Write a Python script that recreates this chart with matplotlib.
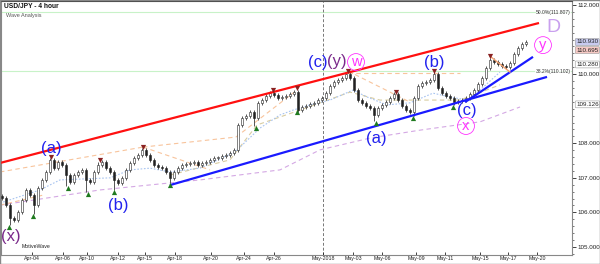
import matplotlib
matplotlib.use('Agg')
import matplotlib.pyplot as plt
from matplotlib.ticker import MultipleLocator

# ---------------- data ----------------
closes = [106.42, 106.21, 105.84, 105.78, 106.01, 106.36, 106.65, 106.50, 106.21, 106.71,
          106.94, 107.17, 107.52, 107.28, 107.46, 107.37, 107.08, 106.88, 107.08, 107.17,
          107.23, 106.94, 106.88, 107.17, 107.37, 107.46, 107.28, 107.17, 106.94, 106.85,
          107.00, 107.23, 107.43, 107.57, 107.66, 107.81, 107.66, 107.52, 107.37, 107.31,
          107.28, 107.17, 107.00, 107.17, 107.28, 107.37, 107.40, 107.43, 107.46, 107.37,
          107.43, 107.46, 107.52, 107.57, 107.57, 107.63, 107.66, 107.72, 107.81, 108.53,
          108.73, 108.79, 108.90, 108.73, 109.17, 109.25, 109.37, 109.45, 109.40, 109.31,
          109.34, 109.37, 109.43, 109.48, 108.96, 109.05, 109.08, 109.14, 109.17, 109.25,
          109.31, 109.45, 109.66, 109.77, 109.83, 109.89, 110.00, 109.89, 109.54, 109.25,
          109.17, 109.08, 109.02, 108.82, 109.02, 109.11, 109.19, 109.31, 109.43, 109.25,
          109.08, 108.96, 108.90, 109.31, 109.66, 109.74, 109.77, 109.83, 110.00, 109.60,
          109.45, 109.37, 109.31, 109.19, 109.22, 109.25, 109.31, 109.43, 109.54, 109.71,
          109.89, 110.18, 110.41, 110.35, 110.29, 110.24, 110.21, 110.32, 110.58, 110.76,
          110.87, 110.93]

# swing highs / lows (bar index, price)
swing_high_x = [12.25, 24.5, 35.25, 67.75, 73.75, 86.5, 98.5, 108, 122]
swing_high_y = [107.60, 107.52, 107.89, 109.54, 109.60, 110.09, 109.48, 110.09, 110.52]
swing_low_x = [1.75, 7.75, 16.5, 21.5, 28, 42, 63.5, 73.75, 93.5, 102.75, 112.75]
swing_low_y = [105.58, 105.90, 106.71, 106.53, 106.59, 106.79, 108.44, 108.90, 108.59, 108.73, 109.05]

tick_pos = [7.5, 15.25, 21.25, 29, 35.75, 43.25, 52.25, 60.5, 68, 80.25, 87.75, 95,
            103.5, 110.75, 119.5, 126.5, 133.75]
tick_lab = ['Apr-04', 'Apr-06', 'Apr-10', 'Apr-12', 'Apr-15', 'Apr-18', 'Apr-20', 'Apr-24',
            'Apr-26', 'May-2018', 'May-03', 'May-06', 'May-09', 'May-11', 'May-15', 'May-17',
            'May-20']

y_ticks = [105, 106, 107, 108, 110, 112]

red_x, red_y = [-0.5, 134.25], [107.43, 111.48]
blue1_x, blue1_y = [42, 136.25], [106.79, 109.92]
blue2_x, blue2_y = [115.75, 132.75], [109.19, 110.50]
orng_x, orng_y = [122, 127], [110.52, 110.06]

fib_levels = [111.807, 110.102]
fib_labels = ['50.0%(111.807)', '38.2%(110.102)']

ma_fast_x = [-0.5, 9.5, 14.5, 27, 32, 37, 42, 49.5, 58.25, 64.5, 69.5, 72.75, 77, 82, 87.75,
             91.25, 96.25, 102, 107.75, 112, 116.25, 119.5, 124.5]
ma_fast_y = [106.27, 106.65, 106.94, 107.0, 107.23, 107.28, 107.17, 107.28, 107.75, 108.44,
             108.82, 108.96, 109.11, 109.25, 109.54, 109.34, 109.11, 109.17, 109.45, 109.34,
             109.25, 109.54, 110.06]
ma_mid_x = [42, 57, 63.75, 74.5, 87, 94.5, 104.5, 114.5, 124.5]
ma_mid_y = [107.08, 107.52, 108.53, 108.96, 109.48, 109.25, 109.25, 109.25, 109.69]
ma_slow_x = [-0.5, 24.5, 49.5, 69.5, 79.5, 92, 104.5, 119.5, 129.5]
ma_slow_y = [106.21, 106.65, 106.94, 107.23, 107.81, 108.15, 108.38, 108.62, 109.05]

fib_dash = [  # (x0, y0, x1, y1) orange dashed projection lines
    (-0.5, 107.17, 35.25, 107.89),
    (35.25, 107.89, 58.5, 108.18),
    (35.25, 107.89, 52, 107.23),
    (-0.5, 106.21, 10.25, 106.50),
    (58.5, 108.18, 73.75, 109.54),
    (86.5, 110.03, 114.5, 110.03),
    (86.5, 110.09, 102, 109.19),
]

waves = [  # (x, y, text, colour, circled)
    (-0.2, 105.29, '(x)', '#7a2a8a', False),
    (12.25, 107.86, '(a)', '#2222ee', False),
    (29, 106.21, '(b)', '#2222ee', False),
    (79.0, 110.35, '(c)', '#2222ee', False),
    (83.8, 110.38, '(y)', '#7a2a8a', False),
    (88.5, 110.35, 'w', '#ff33ff', True),
    (93.5, 108.15, '(a)', '#2222ee', False),
    (108, 110.35, '(b)', '#2222ee', False),
    (116.25, 108.96, '(c)', '#2222ee', False),
    (116, 108.50, 'x', '#ff33ff', True),
    (135.25, 110.84, 'y', '#ff33ff', True),
    (137.75, 111.36, 'D', '#c9a0ee', False),
]

price_boxes = [  # (price, label, face)
    (110.93, '110.930', '#c8cbef'),
    (110.695, '110.695', '#f6c9c4'),
    (110.28, '110.280', '#ffffff'),
    (109.126, '109.126', '#ffffff'),
]

# ---------------- figure ----------------
W, H = 600, 264
fig = plt.figure(figsize=(W / 100, H / 100), dpi=100)
fig.patch.set_facecolor('white')
ax = fig.add_axes([1 / W, 9 / H, 571 / W, 254 / H])
ax.set_xlim(-0.25, 142.5)
ax.set_ylim(104.768, 112.116)

FONT = 'Liberation Sans'

# fib lines
for lv in fib_levels:
    ax.axhline(lv, color='#c8f2c8', lw=0.8, zorder=1)
for lv, lab in zip(fib_levels, fib_labels):
    ax.text(142.2, lv - 0.02, lab, fontsize=3.6, family=FONT, color='#333333',
            ha='right', va='center', zorder=6,
            bbox=dict(boxstyle='square,pad=0.1', fc='white', ec='none', alpha=0.8))

# vertical date separator
ax.axvline(80.25, color='#777777', lw=0.7, ls=(0, (3, 2)), zorder=1)

# moving averages
ax.plot(ma_slow_x, ma_slow_y, color='#d4a8e4', lw=0.8, ls=(0, (4, 3)), zorder=2)
ax.plot(ma_mid_x, ma_mid_y, color='#d8cca0', lw=0.8, ls=(0, (4, 3)), zorder=2)
ax.plot(ma_fast_x, ma_fast_y, color='#a8c4f0', lw=0.8, ls=(0, (1.5, 1.5)), zorder=2)
for x0, y0, x1, y1 in fib_dash:
    ax.plot([x0, x1], [y0, y1], color='#f8c49c', lw=0.8, ls=(0, (4, 3)), zorder=2)

# candles
n = len(closes)
xs = list(range(n))
opens = [closes[0] + 0.05] + closes[:-1]
highs = [max(o, c) + 0.05 for o, c in zip(opens, closes)]
lows = [min(o, c) - 0.05 for o, c in zip(opens, closes)]
for sx, sy in zip(swing_high_x, swing_high_y):
    k = min(range(n), key=lambda i: abs(i - sx))
    highs[k] = max(highs[k], sy - 0.05)
for sx, sy in zip(swing_low_x, swing_low_y):
    k = min(range(n), key=lambda i: abs(i - sx))
    lows[k] = min(lows[k], sy + 0.05)
ax.vlines(xs, lows, highs, color='#555555', lw=0.7, zorder=3)
bottoms = [min(o, c) for o, c in zip(opens, closes)]
heights = [max(abs(c - o), 0.02) for o, c in zip(opens, closes)]
faces = ['white' if c >= o else '#222222' for o, c in zip(opens, closes)]
ax.bar(xs, heights, bottom=bottoms, width=0.6, color=faces, edgecolor='#222222',
       linewidth=0.4, zorder=4)

# trend lines
ax.plot(red_x, red_y, color='#ff1010', lw=1.6, zorder=5, solid_capstyle='butt')
ax.plot(blue1_x, blue1_y, color='#1a1aff', lw=1.6, zorder=5, solid_capstyle='butt')
ax.plot(blue2_x, blue2_y, color='#1a1aff', lw=1.6, zorder=5, solid_capstyle='butt')
ax.plot(orng_x, orng_y, color='#f0a070', lw=1.0, zorder=5)

# swing markers
ax.scatter(swing_high_x, swing_high_y, marker='v', s=14, color='#8a2222', zorder=6, lw=0)
ax.scatter(swing_low_x, swing_low_y, marker='^', s=14, color='#1f7a1f', zorder=6, lw=0)

# wave labels
for x, y, t, col, circ in waves:
    ha = 'left' if x < 0 else 'center'
    if circ:
        ax.text(x, y, t, fontsize=10.5, family=FONT, color=col, ha=ha, va='center',
                zorder=7, bbox=dict(boxstyle='circle,pad=0.1', fc='none', ec=col, lw=0.6))
    elif t == 'D':
        ax.text(x, y, t, fontsize=14, family=FONT, color=col, ha=ha, va='center', zorder=7)
    else:
        ax.text(x, y, t, fontsize=12, family=FONT, color=col, ha=ha, va='center', zorder=7)

# axes styling
for s in ['left', 'top', 'bottom', 'right']:
    ax.spines[s].set_color('#888888')
    ax.spines[s].set_linewidth(0.8)
ax.spines['top'].set_color('#444444')
ax.yaxis.tick_right()
ax.set_yticks(y_ticks)
ax.set_yticklabels(['%.3f' % v for v in y_ticks], fontsize=4.5, family=FONT)
ax.yaxis.set_minor_locator(MultipleLocator(0.2))
ax.tick_params(axis='y', which='major', length=3, width=0.6, pad=1, colors='#222222')
ax.tick_params(axis='y', which='minor', length=1.5, width=0.5, colors='#444444')
ax.set_xticks(tick_pos)
ax.set_xticklabels(tick_lab, fontsize=3.8, family=FONT)
ax.tick_params(axis='x', which='major', direction='in', length=2.5, width=0.6, pad=0.8,
               colors='#222222')

for p, lab, fc in price_boxes:
    ax.annotate(lab, xy=(1.0, p), xycoords=('axes fraction', 'data'), xytext=(3, 0),
                textcoords='offset points', fontsize=4.5, family=FONT, color='#222222',
                ha='left', va='center', annotation_clip=False,
                bbox=dict(boxstyle='round,pad=0.15', fc=fc, ec='#999999', lw=0.4))

# header / footer texts
fig.text(4 / W, 1 - 7 / H, 'USD/JPY - 4 hour', fontsize=4.8, family=FONT,
         fontweight='bold', color='#111111', va='center', ha='left')
fig.text(6 / W, 1 - 16 / H, 'Wave Analysis', fontsize=4.0, family=FONT,
         color='#555555', va='center', ha='left')
fig.text(22 / W, 1 - 247 / H, 'MotiveWave', fontsize=3.8, family=FONT,
         color='#222222', va='center', ha='left')

fig.add_artist(plt.Rectangle((0, 0), 1, 1, transform=fig.transFigure, fill=False,
                             ec='#888888', lw=1.0))

fig.savefig('out.png', dpi=100)
